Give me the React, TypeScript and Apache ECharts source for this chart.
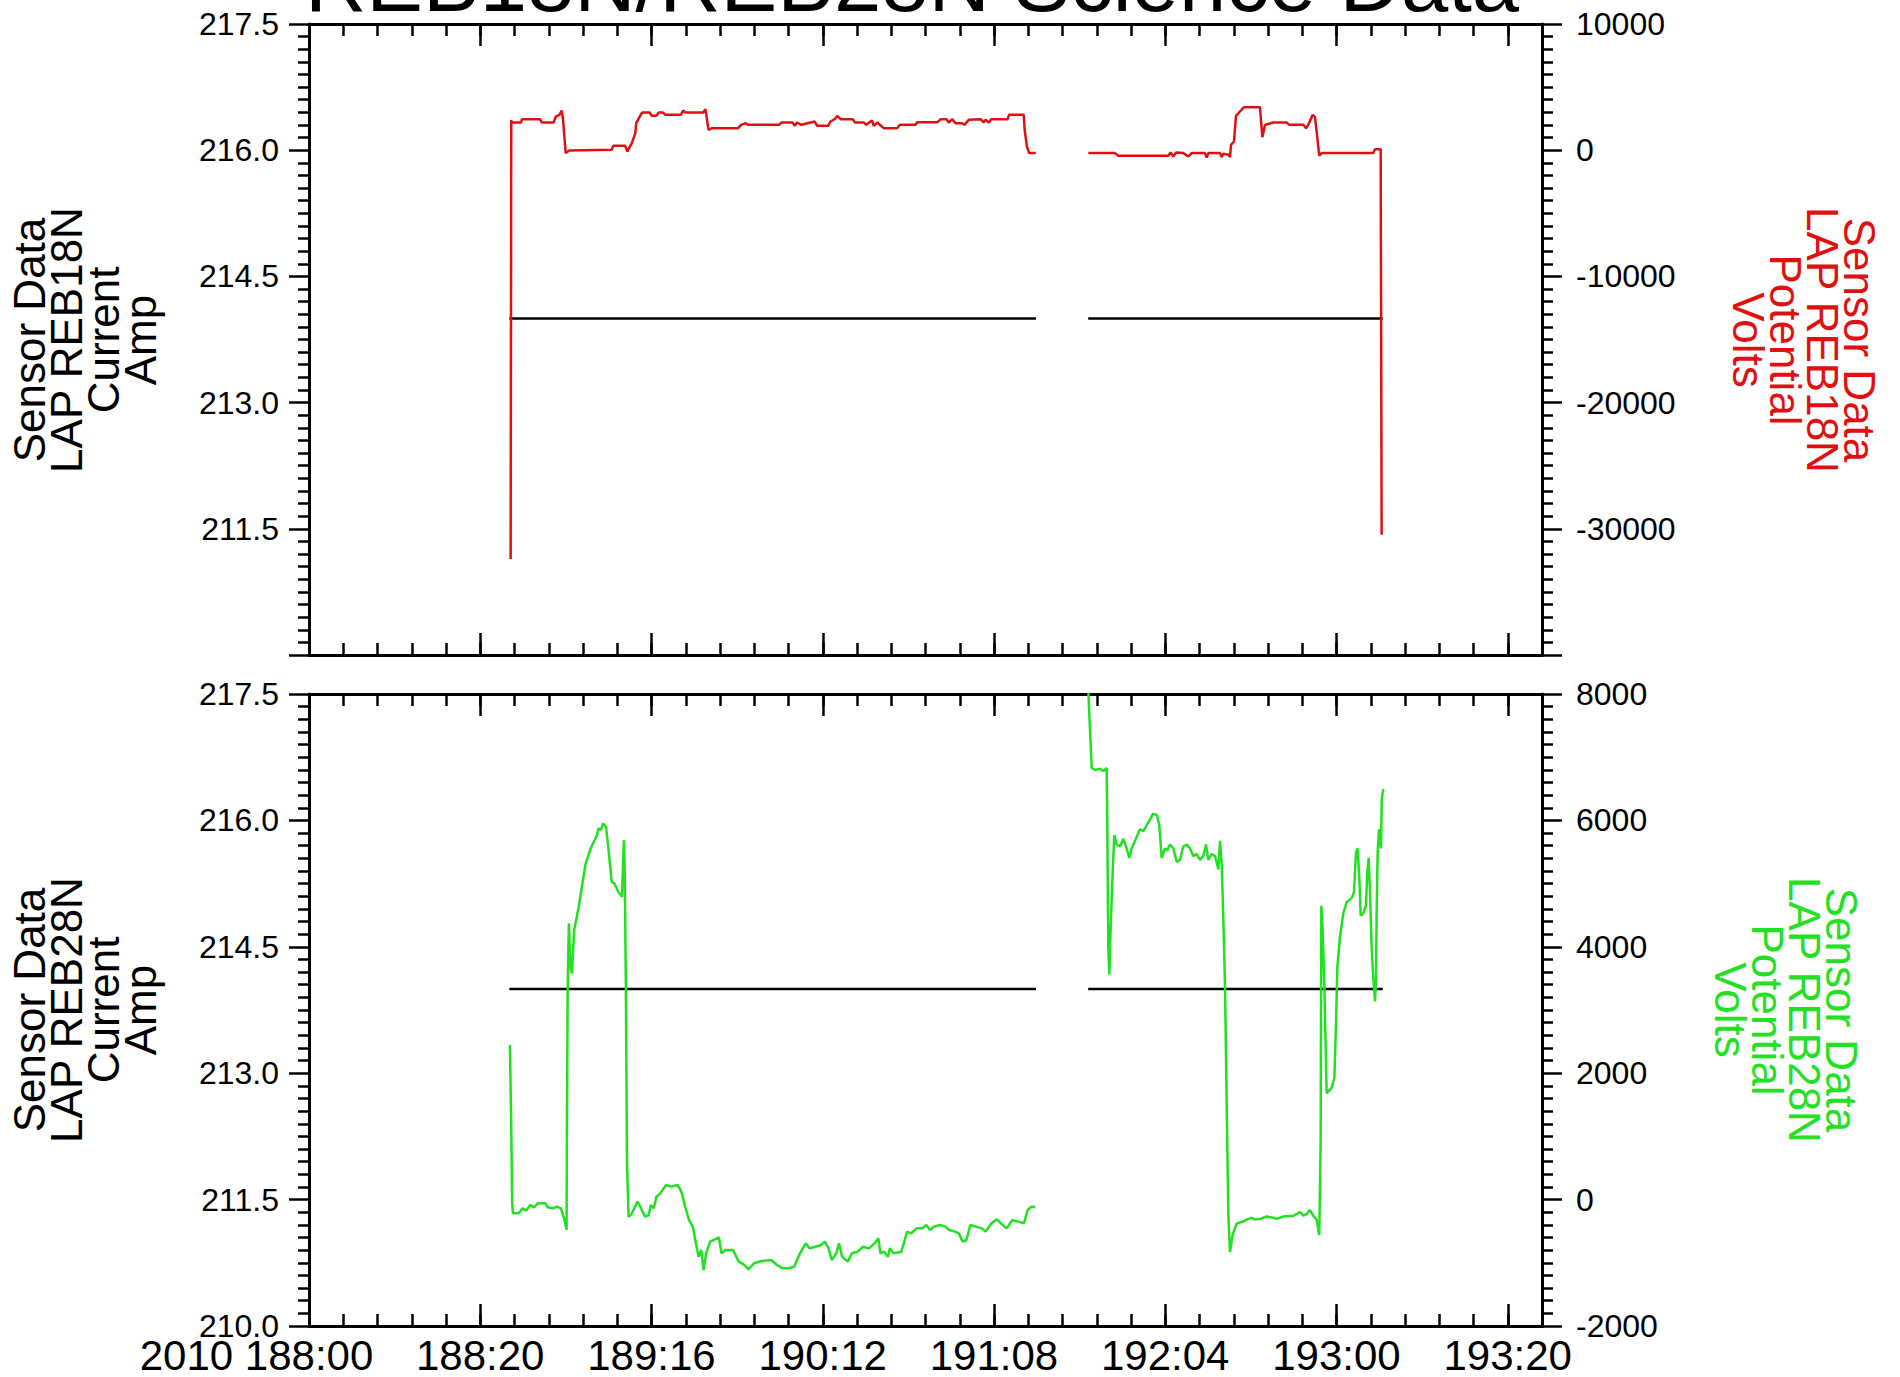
import React, { useEffect, useRef } from 'react';
import * as echarts from 'echarts';

type Pt = [number, number];

const FONT = '"Liberation Sans", Arial, Helvetica, sans-serif';

// Time axis: hours elapsed since 2010 day 188 00:00, major ticks every 20 h.
const xTickLabels = ['2010 188:00', '188:20', '189:16', '190:12', '191:08', '192:04', '193:00', '193:20'];

// LAP REB18N current (Amp), two passes
const reb18nCurrentPass1: Pt[] = [[23.4, 214.0], [84.9, 214.0]];
const reb18nCurrentPass2: Pt[] = [[91.0, 214.0], [125.4, 214.0]];

// LAP REB28N current (Amp), two passes
const reb28nCurrentPass1: Pt[] = [[23.4, 214.0], [84.9, 214.0]];
const reb28nCurrentPass2: Pt[] = [[91.0, 214.0], [125.4, 214.0]];

// LAP REB18N potential (Volts)
const reb18nPotentialPass1: Pt[] = [
  [23.55, -32400], [23.62, 2400], [23.65, 2195], [24.77, 2195], [24.87, 2459], [27.01, 2459],
  [27.17, 2195], [28.57, 2195], [28.83, 2669], [29.25, 2801], [29.51, 3144], [29.67, 2406],
  [29.98, -231], [30.4, -20], [35.35, 32], [35.51, 349], [36.92, 349], [37.18, -100],
  [37.7, 560], [38.11, 1351], [38.22, 2142], [38.53, 2538], [38.9, 2986], [39.78, 2986],
  [40.04, 2722], [40.56, 2722], [40.83, 2986], [41.35, 2986], [41.61, 2801], [43.43, 2801],
  [43.69, 3144], [43.95, 2986], [46.04, 2986], [46.3, 3250], [46.66, 1615], [47.08, 1746],
  [50.11, 1746], [50.47, 2010], [50.99, 2142], [51.25, 2010], [54.9, 2010], [55.16, 2195],
  [56.47, 2195], [56.73, 1931], [56.99, 2195], [57.51, 2010], [59.07, 2274], [59.34, 1931],
  [60.64, 1931], [60.9, 2274], [61.42, 2459], [61.68, 2722], [62.1, 2459], [63.5, 2459],
  [63.77, 2195], [64.81, 2195], [65.07, 2010], [65.75, 2353], [65.96, 1931], [66.37, 2195],
  [66.89, 1878], [67.15, 1746], [68.72, 1746], [68.98, 2010], [70.8, 2010], [71.06, 2221],
  [73.41, 2221], [73.78, 2459], [74.45, 2459], [74.71, 2195], [75.13, 2459], [75.5, 2142],
  [76.28, 2142], [76.54, 2010], [77.06, 2406], [78.47, 2459], [78.78, 2195], [78.99, 2406],
  [79.41, 2195], [79.67, 2459], [81.59, 2459], [81.75, 2801], [83.47, 2801], [83.58, 1615],
  [83.84, 296], [84.1, -231], [84.88, -231],
];
const reb18nPotentialPass2: Pt[] = [
  [91.02, -231], [94.13, -231], [94.52, -442], [100.36, -442], [100.63, -179], [100.94, -495],
  [101.26, -179], [102.11, -231], [102.7, -495], [103.08, -231], [104.64, -231], [104.84, -574],
  [105.03, -231], [106.39, -231], [106.59, -548], [106.78, -284], [107.37, -363], [107.56, -548],
  [107.68, 428], [108.03, 692], [108.26, 2722], [108.73, 3065], [109.2, 3408], [111.06, 3408],
  [111.34, 1034], [111.65, 2010], [112.62, 2195], [114.18, 2195], [114.49, 2010], [116.13, 2010],
  [116.44, 1746], [116.71, 2010], [117.22, 2801], [117.49, 2617], [117.99, -442], [118.27, -231],
  [124.3, -231], [124.5, 85], [125.16, 85], [125.27, -30475],
];

// LAP REB28N potential (Volts)
const reb28nPotentialPass1: Pt[] = [
  [23.46, 2446], [23.6, 1365], [23.73, -59], [23.82, -217], [24.49, -217], [24.94, -138],
  [25.38, -175], [25.83, -85], [26.28, -122], [26.73, -59], [27.62, -59], [27.84, -122],
  [28.51, -138], [28.96, -112], [29.41, -138], [29.85, -323], [30.08, -481], [30.12, 1101],
  [30.21, 3369], [30.35, 4371], [30.53, 3686], [30.7, 3580], [30.97, 4266], [31.51, 4635],
  [31.87, 4951], [32.31, 5321], [32.98, 5584], [33.65, 5769], [33.79, 5874], [34.1, 5848],
  [34.32, 5953], [34.68, 5901], [34.99, 5531], [35.35, 5030], [35.66, 5004], [36.11, 4872],
  [36.56, 4793], [36.69, 5373], [36.78, 5690], [36.87, 5215], [37.0, 3475], [37.14, 574],
  [37.32, -270], [37.59, -244], [37.9, -165], [38.35, -33], [38.7, -112], [39.24, -270],
  [39.69, -244], [39.91, -85], [40.27, -138], [40.58, 47], [41.03, 99], [41.7, 231],
  [42.37, 205], [43.04, 231], [43.49, 126], [43.93, -112], [44.38, -323], [44.83, -428],
  [45.27, -745], [45.5, -903], [45.81, -797], [46.08, -1114], [46.39, -850], [46.84, -665],
  [47.29, -639], [47.87, -597], [48.18, -850], [48.63, -797], [49.52, -797], [50.19, -982],
  [50.86, -1035], [51.31, -1103], [51.98, -1008], [52.87, -971], [53.99, -956], [54.66, -1035],
  [55.33, -1087], [56.0, -1087], [56.67, -1061], [57.34, -850], [58.01, -692], [58.46, -771],
  [59.13, -745], [59.8, -718], [60.25, -665], [60.69, -771], [61.05, -956], [61.59, -850],
  [61.9, -692], [62.26, -903], [62.93, -982], [63.4, -850], [64.05, -824], [64.72, -745],
  [65.39, -771], [66.06, -692], [66.5, -613], [66.73, -850], [67.17, -824], [67.62, -903],
  [67.84, -771], [68.29, -850], [69.18, -824], [69.86, -507], [70.3, -534], [70.97, -455],
  [71.64, -455], [72.09, -402], [72.54, -481], [72.98, -428], [73.66, -402], [74.32, -428],
  [74.77, -481], [75.44, -507], [75.89, -534], [76.34, -665], [76.78, -639], [77.23, -402],
  [77.9, -428], [78.57, -455], [79.02, -507], [79.69, -376], [80.36, -312], [80.81, -376],
  [81.47, -455], [82.15, -323], [82.82, -349], [83.49, -376], [83.93, -165], [84.38, -112],
  [84.83, -122],
];
const reb28nPotentialPass2: Pt[] = [
  [91.0, 8100], [91.21, 7434], [91.41, 6829], [91.8, 6798], [92.38, 6817], [92.77, 6780],
  [93.16, 6829], [93.24, 5799], [93.35, 3983], [93.47, 3559], [93.62, 4285], [93.86, 5194],
  [94.05, 5769], [94.33, 5618], [94.72, 5587], [95.1, 5709], [95.49, 5557], [95.8, 5406],
  [96.08, 5557], [96.47, 5678], [96.86, 5799], [97.05, 5860], [97.44, 5830], [97.83, 5920],
  [98.22, 6011], [98.53, 6102], [99.0, 6090], [99.31, 5920], [99.58, 5406], [99.97, 5557],
  [100.24, 5527], [100.55, 5618], [100.94, 5557], [101.33, 5345], [101.72, 5375], [102.11, 5587],
  [102.5, 5618], [102.89, 5557], [103.28, 5436], [103.67, 5466], [104.06, 5375], [104.45, 5436],
  [104.76, 5618], [105.03, 5375], [105.42, 5466], [105.81, 5436], [106.2, 5224], [106.39, 5678],
  [106.59, 5315], [106.78, 4467], [106.98, 3377], [107.17, 1560], [107.37, -256], [107.56, -832],
  [107.87, -559], [108.34, -377], [109.12, -347], [109.51, -317], [110.09, -287], [110.48, -317],
  [111.07, -305], [111.84, -268], [112.62, -287], [113.01, -305], [113.79, -268], [114.96, -256],
  [115.74, -196], [116.13, -256], [116.52, -226], [116.9, -166], [117.29, -256], [117.68, -317],
  [117.99, -559], [118.15, 955], [118.23, 4649], [118.38, 4285], [118.58, 3377], [118.85, 1682],
  [119.05, 1712], [119.44, 1772], [119.75, 1924], [119.94, 2772], [120.1, 3680], [120.41, 4164],
  [120.8, 4528], [121.19, 4709], [121.77, 4770], [122.04, 4861], [122.28, 5497], [122.47, 5557],
  [122.67, 5073], [122.82, 4497], [123.13, 4528], [123.44, 4649], [123.6, 5194], [123.76, 5406],
  [123.91, 4891], [124.11, 3983], [124.3, 3498], [124.5, 3135], [124.61, 3498], [124.69, 4588],
  [124.81, 5497], [124.96, 5860], [125.2, 5557], [125.28, 6344], [125.47, 6496],
];

// Join two passes with a null point so the line breaks across the data gap.
const joinPasses = (a: Pt[], b: Pt[]) => [
  ...a,
  [(a[a.length - 1][0] + b[0][0]) / 2, null],
  ...b,
];

const BLACK = '#000000';
const RED = '#e01010';
const GREEN = '#22e022';

const GRID_LEFT = 309;
const GRID_WIDTH = 1233;
const X_LABEL_SIZE = 42;
const X_LABEL_MARGIN = 8;

const axisLineStyle = { color: BLACK, width: 3 };
const tickLineStyle = { color: BLACK, width: 2.5 };

const xLabelRich = {
  a: { fontSize: X_LABEL_SIZE, lineHeight: X_LABEL_SIZE, fontFamily: FONT, color: BLACK },
  pad: { width: 105 },
};

// Major ticks every 20 h; labels for the inner ticks (the first one is drawn by the minor axis).
const xMajor = (gridIndex: number, position: 'top' | 'bottom', showLabels: boolean) => ({
  type: 'value',
  gridIndex,
  position,
  min: 0,
  max: 144,
  interval: 20,
  axisLine: { show: true, onZero: false, lineStyle: axisLineStyle },
  axisTick: { show: true, inside: true, length: 22, lineStyle: tickLineStyle },
  splitLine: { show: false },
  axisLabel: showLabels
    ? {
        show: true,
        margin: X_LABEL_MARGIN,
        showMinLabel: false,
        showMaxLabel: false,
        formatter: (v: number) => {
          const i = Math.round(v / 20);
          if (Math.abs(v - i * 20) > 1e-6 || i < 1 || i >= xTickLabels.length) return '';
          return `{a|${xTickLabels[i]}}`;
        },
        rich: xLabelRich,
      }
    : { show: false },
});

// Minor ticks every 4 h; on the labelled axis it also carries the year-prefixed first label.
const xMinor = (gridIndex: number, position: 'top' | 'bottom', showFirstLabel: boolean) => ({
  type: 'value',
  gridIndex,
  position,
  min: 0,
  max: 144,
  interval: 4,
  axisLine: { show: false, onZero: false },
  axisTick: { show: true, inside: true, length: 12, lineStyle: tickLineStyle },
  splitLine: { show: false },
  axisLabel: showFirstLabel
    ? {
        show: true,
        margin: X_LABEL_MARGIN,
        showMinLabel: true,
        formatter: (v: number) =>
          // the year prefix hangs left of the tick: a blank token of equal width keeps "188:00" centred
          Math.abs(v) < 1e-6 ? `{a|${xTickLabels[0]}}{pad|}` : '',
        rich: xLabelRich,
      }
    : { show: false },
});

const yLeft = (gridIndex: number, showMinLabel: boolean) => ({
  type: 'value',
  gridIndex,
  position: 'left',
  min: 210,
  max: 217.5,
  interval: 1.5,
  axisLine: { show: true, onZero: false, lineStyle: axisLineStyle },
  axisTick: { show: true, inside: false, length: 20, lineStyle: tickLineStyle },
  minorTick: { show: true, splitNumber: 10, length: 11, lineStyle: tickLineStyle },
  splitLine: { show: false },
  minorSplitLine: { show: false },
  axisLabel: {
    show: true,
    margin: 30,
    fontSize: 32,
    fontFamily: FONT,
    color: BLACK,
    showMinLabel,
    showMaxLabel: true,
    formatter: (v: number) => v.toFixed(1),
  },
});

const yRight = (gridIndex: number, min: number, max: number, interval: number, showMinLabel: boolean) => ({
  type: 'value',
  gridIndex,
  position: 'right',
  min,
  max,
  interval,
  axisLine: { show: true, onZero: false, lineStyle: axisLineStyle },
  axisTick: { show: true, inside: false, length: 20, lineStyle: tickLineStyle },
  minorTick: { show: true, splitNumber: 10, length: 11, lineStyle: tickLineStyle },
  splitLine: { show: false },
  minorSplitLine: { show: false },
  axisLabel: {
    show: true,
    margin: 34,
    fontSize: 32,
    fontFamily: FONT,
    color: BLACK,
    showMinLabel,
    showMaxLabel: true,
    formatter: (v: number) => String(v),
  },
});

const lineSeries = (xAxisIndex: number, yAxisIndex: number, data: any[], color: string, width: number) => ({
  type: 'line',
  xAxisIndex,
  yAxisIndex,
  data,
  symbol: 'none',
  showSymbol: false,
  connectNulls: false,
  silent: true,
  itemStyle: { color },
  lineStyle: { color, width },
});

const axisTitle = (text: string, x: number, y: number, rotation: number, fill: string) => ({
  type: 'text',
  x,
  y,
  rotation,
  silent: true,
  style: {
    text,
    fill,
    fontSize: 44,
    fontFamily: FONT,
    align: 'center',
    verticalAlign: 'middle',
    lineHeight: 37,
  },
});

export default function App() {
  const ref = useRef<HTMLDivElement>(null);

  useEffect(() => {
    if (!ref.current) return;
    const chart = echarts.init(ref.current, null, { renderer: 'svg' });
    chart.setOption({
      animation: false,
      backgroundColor: '#ffffff',
      textStyle: { fontFamily: FONT },
      grid: [
        { left: GRID_LEFT, top: 24, width: GRID_WIDTH, height: 631, containLabel: false, outerBoundsMode: 'none' },
        { left: GRID_LEFT, top: 694, width: GRID_WIDTH, height: 632, containLabel: false, outerBoundsMode: 'none' },
      ],
      xAxis: [
        xMajor(0, 'bottom', false),
        xMinor(0, 'bottom', false),
        xMajor(0, 'top', false),
        xMinor(0, 'top', false),
        xMajor(1, 'bottom', true),
        xMinor(1, 'bottom', true),
        xMajor(1, 'top', false),
        xMinor(1, 'top', false),
      ],
      yAxis: [
        yLeft(0, false),
        yRight(0, -40000, 10000, 10000, false),
        yLeft(1, true),
        yRight(1, -2000, 8000, 2000, true),
      ],
      series: [
        lineSeries(0, 0, joinPasses(reb18nCurrentPass1, reb18nCurrentPass2), BLACK, 2.5),
        lineSeries(0, 1, joinPasses(reb18nPotentialPass1, reb18nPotentialPass2), RED, 2.5),
        lineSeries(4, 2, joinPasses(reb28nCurrentPass1, reb28nCurrentPass2), BLACK, 2.5),
        lineSeries(4, 3, joinPasses(reb28nPotentialPass1, reb28nPotentialPass2), GREEN, 2.5),
      ],
      graphic: [
        {
          type: 'text',
          x: 912,
          y: -19,
          silent: true,
          style: {
            text: 'REB18N/REB28N Science Data',
            fill: BLACK,
            fontSize: 85,
            fontFamily: FONT,
            align: 'center',
            verticalAlign: 'middle',
          },
        },
        axisTitle('Sensor Data\nLAP REB18N\nCurrent\nAmp', 85, 340, Math.PI / 2, BLACK),
        axisTitle('Sensor Data\nLAP REB18N\nPotential\nVolts', 1804, 340, -Math.PI / 2, RED),
        axisTitle('Sensor Data\nLAP REB28N\nCurrent\nAmp', 85, 1010, Math.PI / 2, BLACK),
        axisTitle('Sensor Data\nLAP REB28N\nPotential\nVolts', 1786, 1010, -Math.PI / 2, GREEN),
      ],
    });
    return () => chart.dispose();
  }, []);

  return (
    <div
      ref={ref}
      style={{ position: 'fixed', left: 0, top: 0, width: 1900, height: 1377, background: '#ffffff' }}
    />
  );
}
